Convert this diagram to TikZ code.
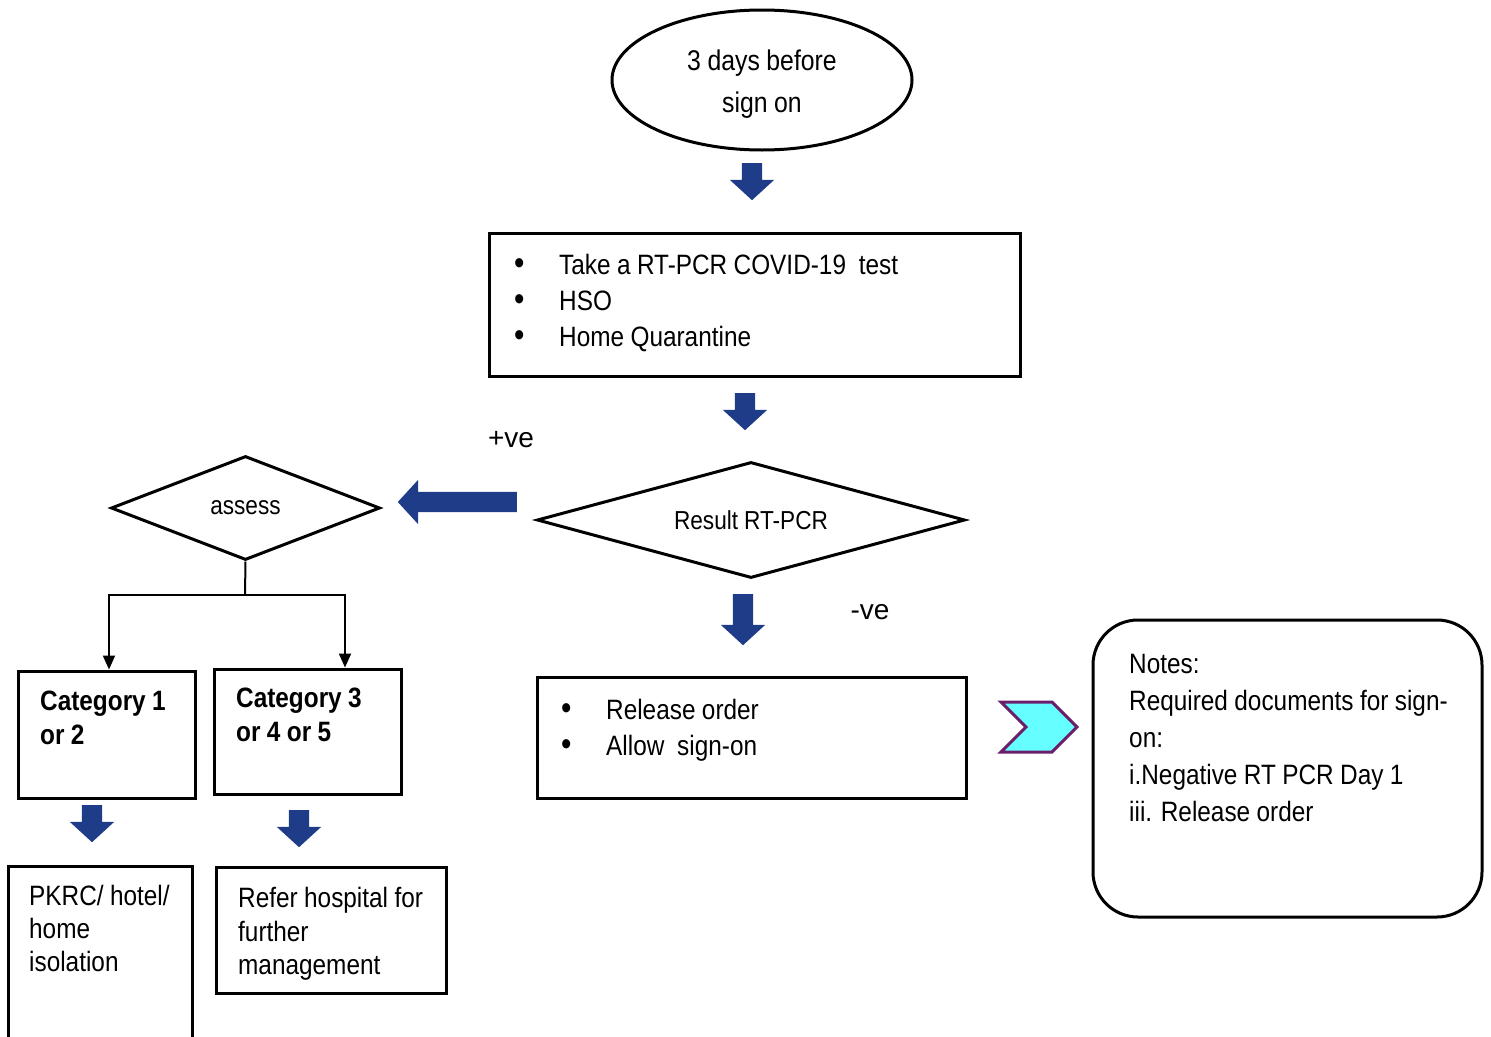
\documentclass[tikz,border=0pt]{standalone}
\usepackage{fontspec}
\setmainfont[FakeStretch=0.87,WordSpace=0.95]{Liberation Sans}
\newfontfamily\plainfont{Liberation Sans}
\usetikzlibrary{shapes.geometric,shapes.arrows,shapes.symbols,arrows.meta}
\definecolor{arrowblue}{RGB}{31,60,136}
\definecolor{chevfill}{RGB}{102,255,255}
\definecolor{chevline}{RGB}{107,31,107}
\newcommand{\bul}{\makebox[45pt][l]{\fontsize{34}{34}\selectfont\textbullet}}

\begin{document}
\begin{tikzpicture}[x=1pt, y=-1pt, font=\fontsize{28}{36}\selectfont,
 startnode/.style={ellipse, draw, line width=3pt, minimum width=300pt, minimum height=140pt, align=center, font=\fontsize{28.5}{42}\selectfont},
 boxnode/.style={rectangle, draw, line width=3pt},
 decnode/.style={diamond, draw, line width=3pt, inner sep=0pt, font=\fontsize{26}{30}\selectfont},
 textnode/.style={anchor=north west, inner sep=0pt, align=left},
 signnode/.style={inner sep=0pt, font=\plainfont\fontsize{28}{30}\selectfont},
 bluearrow/.style={single arrow, fill=arrowblue, inner sep=10pt, minimum width=44pt, single arrow head extend=12pt, single arrow tip angle=95, shape border rotate=270, anchor=tail},
 chevron/.style={signal, signal from=west, signal to=east, fill=chevfill, draw=chevline, line width=3pt, minimum width=76pt, minimum height=50pt, inner sep=0pt},
 notenode/.style={rectangle, draw, line width=3pt, rounded corners=45pt},
 link/.style={line width=2pt, -{Triangle[width=12pt,length=14pt]}}]

\useasboundingbox (0,0) rectangle (1491,1036);
\clip (0,0) rectangle (1491,1036);

% main line
\node[startnode] (start) at (762,80) {\rule{0pt}{28pt}3 days before\\sign on};
\node[bluearrow, minimum height=37pt] (a1) at (752,163) {};
\node[boxnode, minimum width=531pt, minimum height=143pt] (test) at (754.5,304.5) {};
\node[textnode] (testtext) at (514,254)
  {\bul Take a RT-PCR COVID-19\ \ test\\
   \bul HSO\\
   \bul Home Quarantine};
\node[bluearrow, minimum height=37pt] (a2) at (745,393) {};
\node[decnode, minimum width=428pt, minimum height=116pt, aspect=3.7] (result) at (751,520) {Result RT-PCR};
\node[signnode] (pos) at (511,440) {+ve};
\node[signnode] (neg) at (870,612) {-ve};
\node[bluearrow, minimum height=51pt] (a3) at (743,594) {};
\node[boxnode, minimum width=429pt, minimum height=121pt] (release) at (751.5,737.5) {};
\node[textnode] (releasetext) at (561,699)
  {\bul Release order\\
   \bul Allow\ \ sign-on};
\node[chevron] (chev) at (1039,727) {};
\node[notenode, minimum width=389pt, minimum height=297pt] (notes) at (1287.5,768.5) {};
\node[textnode, font=\fontsize{28}{37}\selectfont] (notestext) at (1129,654)
  {Notes:\\Required documents for sign-\\on:\\i.Negative RT PCR Day 1\\iii. Release order};

% positive branch
\node[bluearrow, minimum height=119pt, shape border rotate=180] (a4) at (517,502) {};
\node[decnode, minimum width=269pt, minimum height=104pt, aspect=2.6] (assess) at (245.5,508) {assess};
\coordinate (split) at (245,595);
\node[boxnode, minimum width=177pt, minimum height=127pt] (cat1) at (106.5,734.5) {};
\node[textnode, font=\bfseries\fontsize{28}{34}\selectfont] (cat1text) at (40,691) {Category 1\\or 2};
\node[boxnode, minimum width=187pt, minimum height=125pt] (cat3) at (307.5,731.5) {};
\node[textnode, font=\bfseries\fontsize{28}{34}\selectfont] (cat3text) at (236,688) {Category 3\\or 4 or 5};
\node[bluearrow, minimum height=37pt] (a5) at (92,805) {};
\node[bluearrow, minimum height=37pt] (a6) at (299,810) {};
\node[boxnode, minimum width=184pt, minimum height=185pt] (pkrc) at (100,958.5) {};
\node[textnode, font=\fontsize{28}{33}\selectfont] (pkrctext) at (29,885) {PKRC/ hotel/\\home\\isolation};
\node[boxnode, minimum width=230pt, minimum height=126pt] (refer) at (331,930) {};
\node[textnode, font=\fontsize{28}{33.5}\selectfont] (refertext) at (238,887) {Refer hospital for\\further\\management};

\draw[line width=2pt] (assess.south) -- (split);
\draw[link] (split) -| ([xshift=2.5pt]cat1.north);
\draw[link] (split) -| ([xshift=37.5pt]cat3.north);
\end{tikzpicture}
\end{document}
